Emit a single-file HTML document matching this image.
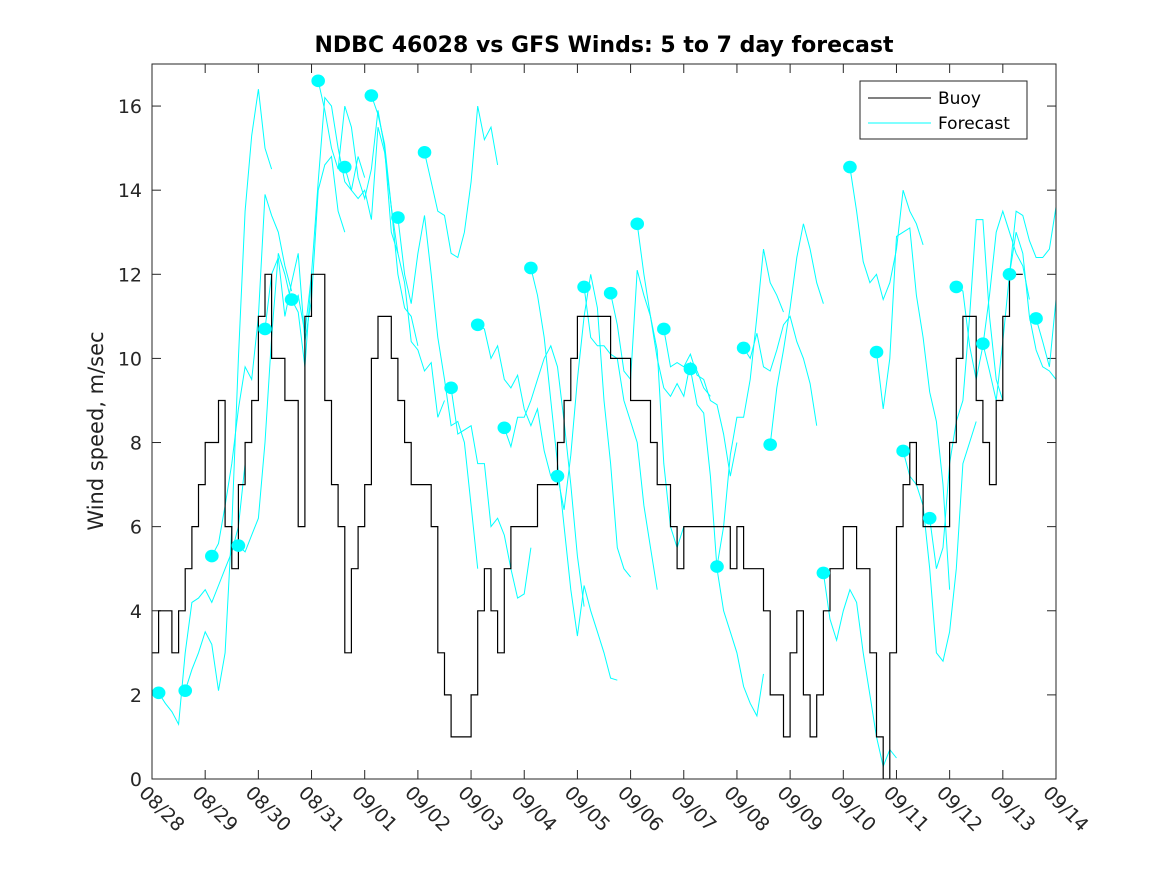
<!DOCTYPE html>
<html><head><meta charset="utf-8"><style>
body{margin:0;background:#fff;}
svg{display:block;font-family:"DejaVu Sans","Liberation Sans",sans-serif;}
</style></head><body>
<svg id="chart" width="1167" height="875" viewBox="0 0 1167 875" xmlns="http://www.w3.org/2000/svg">
<rect width="1167" height="875" fill="#fff"/>
<defs><clipPath id="pc"><rect x="152" y="64" width="904" height="715"/></clipPath></defs>
<text x="604" y="52" text-anchor="middle" font-size="22" font-weight="bold" fill="#000">NDBC 46028 vs GFS Winds: 5 to 7 day forecast</text>
<text transform="translate(103,431) rotate(-90)" text-anchor="middle" font-size="21" fill="#222">Wind speed, m/sec</text>
<g id="axes"></g>
<g id="forecast" clip-path="url(#pc)"></g>
<g id="buoy" clip-path="url(#pc)"></g>
<g id="dots" clip-path="url(#pc)"></g>
<rect x="152" y="64" width="904" height="715" fill="none" stroke="#262626" stroke-width="1"/>
<g>
<rect x="860" y="81" width="167" height="58" fill="#fff" stroke="#262626"/>
<line x1="868" y1="98" x2="931" y2="98" stroke="#000"/>
<text x="938" y="104" font-size="17" fill="#000">Buoy</text>
<line x1="868" y1="123" x2="931" y2="123" stroke="#00ffff"/>
<text x="938" y="129" font-size="17" fill="#000">Forecast</text>
</g>
</svg>
<script>
const xTickLabels=["08/28","08/29","08/30","08/31","09/01","09/02","09/03","09/04","09/05","09/06","09/07","09/08","09/09","09/10","09/11","09/12","09/13","09/14"];
const yTicks=[0,2,4,6,8,10,12,14,16];
const buoyStepDays=0.125;
const buoyValues=[3,4,4,3,4,5,6,7, 8,8,9,6,5,7,8,9, 11,12,10,10,9,9,6,11, 12,12,9,7,6,3,5,6, 7,10,11,11,10,9,8,7, 7,7,6,3,2,1,1,1, 2,4,5,4,3,5,6,6, 6,6,7,7,7,8,9,10, 11,11,11,11,11,10,10,10, 9,9,9,8,7,7,6,5, 6,6,6,6,6,6,6,5, 6,5,5,5,4,2,2,1, 3,4,2,1,2,4,5,5, 6,6,5,5,3,1,0,3, 6,7,8,7,6,6,6,6, 8,10,11,11,9,8,7,9, 11,12,12];
const forecastStarts=[0.125,0.625,1.125,1.625,2.125,2.625,3.125,3.625,4.125,4.625,5.125,5.625,6.125,6.625,7.125,7.625,8.125,8.625,9.125,9.625,10.125,10.625,11.125,11.625,12.625,13.125,13.625,14.125,14.625,15.125,15.625,16.125,16.625];
const forecastValues=[
[2.05,1.8,1.6,1.3,3.0,4.2,4.3,4.5,4.2,4.6,5.0,5.4,6.0,7.5],
[2.1,2.6,3.0,3.5,3.2,2.1,3.0,6.0,10.0,13.5,15.3,16.4,15.0,14.5],
[5.3,5.6,6.5,7.5,8.8,9.8,9.5,11.0,13.9,13.4,13.0,12.2,11.6],
[5.55,5.4,5.8,6.2,8.0,10.5,12.5,12.0,11.3,11.5,10.6,12.0],
[10.7,12.0,12.4,11.0,11.8,12.5,10.4,11.4,14.0,14.6,14.8,13.5,13.0],
[11.4,11.1,9.8,12.0,14.2,16.2,16.0,15.0,14.2,14.0,14.8,14.3],
[16.6,15.9,15.0,14.5,16.0,15.5,14.3,13.8,14.5,15.9,15.0,13.0,12.5],
[14.55,14.0,13.8,14.0,13.3,15.5,14.9,13.6,12.0,11.2,11.0,10.3],
[16.25,15.8,15.1,13.6,12.5,11.8,10.4,10.2,9.7,9.9,8.6,9.0],
[13.35,12.0,11.3,12.5,13.4,12.0,10.5,9.5,8.4,8.5,8.0,6.5,5.0],
[14.9,14.2,13.5,13.4,12.5,12.4,13.0,14.2,16.0,15.2,15.5,14.6],
[9.3,8.2,8.3,8.4,7.5,7.5,6.0,6.2,5.8,5.0,4.3,4.4,5.5],
[10.8,10.7,10.0,10.3,9.5,9.3,9.6,8.8,8.4,8.8,7.8,7.2],
[8.35,7.9,8.6,8.6,9.0,9.5,10.0,10.3,9.8,8.5,7.0,5.3,4.1],
[12.15,11.5,10.5,9.0,7.5,6.0,4.5,3.4,4.6,4.0,3.5,3.0,2.4,2.35],
[7.2,6.4,7.7,9.5,11.0,12.0,11.2,9.0,7.5,5.5,5.0,4.8],
[11.7,10.5,10.3,10.3,10.1,10.0,9.0,8.5,8.0,6.5,5.5,4.5],
[11.55,10.8,9.7,9.5,12.1,11.5,11.0,10.2,7.5,6.0,5.5,6.0],
[13.2,12.0,11.0,10.0,9.3,9.1,9.4,9.1,9.9,9.7,9.3,9.1],
[10.7,9.8,9.9,9.8,10.1,9.6,9.5,9.0,8.9,8.2,7.2,8.0],
[9.75,8.9,8.7,7.2,5.0,4.0,3.5,3.0,2.2,1.8,1.5,2.5],
[5.05,6.0,7.7,8.6,8.6,9.5,11.0,12.6,11.8,11.5,11.1],
[10.25,10.0,10.6,9.8,9.7,10.2,10.8,11.0,10.4,10.0,9.4,8.4],
[7.95,9.3,10.2,11.2,12.4,13.2,12.6,11.8,11.3],
[4.9,3.8,3.3,4.0,4.5,4.2,3.0,2.0,1.0,0.3,0.7,0.5],
[14.55,13.5,12.3,11.8,12.0,11.4,11.8,12.6,14.0,13.5,13.2,12.7],
[10.15,8.8,10.0,12.9,13.0,13.1,11.5,10.5,9.2,8.5,7.0,4.5],
[7.8,7.2,7.0,6.5,5.0,3.0,2.8,3.5,5.0,7.5,8.0,8.5],
[6.2,5.0,5.5,7.5,8.5,9.0,11.0,13.3,13.3,11.0,9.5,9.0],
[11.7,11.6,10.3,9.5,10.3,11.5,13.0,13.5,13.0,12.5,12.2,11.4],
[10.35,9.7,9.0,10.4,12.0,13.5,13.4,12.8,12.4,12.4,12.6,13.6],
[12.0,13.0,12.5,11.0,10.2,9.8,9.7,9.5],
[10.95,10.4,9.8,11.4]
];
const forecastStepDays=0.125;

const NS="http://www.w3.org/2000/svg";
const X0=152,X1=1056,Y0=779,Y1=64,DMAX=17,VMAX=17;
function xs(d){return X0+(X1-X0)*d/DMAX;}
function ys(v){return Y0-(Y0-Y1)*v/VMAX;}
function mk(tag,attrs,parent){const e=document.createElementNS(NS,tag);for(const k in attrs)e.setAttribute(k,attrs[k]);parent.appendChild(e);return e;}

const axes=document.getElementById('axes');
xTickLabels.forEach((lab,i)=>{
  const x=xs(i);
  const t1=mk('line',{x1:x,y1:Y0,x2:x,y2:Y0-9,stroke:'#262626'},axes);
  
  
  const t2=mk('line',{x1:x,y1:Y1,x2:x,y2:Y1+9,stroke:'#262626'},axes);
  
  
  const tx=mk('text',{x:0,y:0,transform:`translate(${x-14},${Y0+15}) rotate(45)`,'font-size':19,fill:'#262626'},axes);
  tx.textContent=lab;
  
  
});
yTicks.forEach(v=>{
  const y=ys(v);
  const t1=mk('line',{x1:X0,y1:y,x2:X0+9,y2:y,stroke:'#262626'},axes);
  
  
  const t2=mk('line',{x1:X1,y1:y,x2:X1-9,y2:y,stroke:'#262626'},axes);
  
  
  const tx=mk('text',{x:X0-10,y:y+7,'text-anchor':'end','font-size':19,fill:'#262626'},axes);
  tx.textContent=v;
  
  
});

const fg=document.getElementById('forecast');
const dg=document.getElementById('dots');
forecastStarts.forEach((s,i)=>{
  const vals=forecastValues[i];
  const pts=vals.map((v,j)=>xs(s+j*forecastStepDays).toFixed(1)+','+ys(v).toFixed(1)).join(' ');
  const pl=mk('polyline',{points:pts,fill:'none',stroke:'#00ffff','stroke-width':1},fg);
  
  
  const c=mk('ellipse',{cx:xs(s),cy:ys(vals[0]),rx:6.8,ry:6.3,fill:'#00ffff'},dg);
  
  
});

const bg=document.getElementById('buoy');
let d='';
buoyValues.forEach((v,i)=>{
  const x=xs(i*buoyStepDays),y=ys(v);
  if(i===0)d+=`M${x.toFixed(1)},${y.toFixed(1)}`;
  else d+=`H${x.toFixed(1)}V${y.toFixed(1)}`;
});
d+=`H${xs(buoyValues.length*buoyStepDays).toFixed(1)}`;
const bp=mk('path',{d:d,fill:'none',stroke:'#000','stroke-width':1.2},bg);


</script>
</body></html>
